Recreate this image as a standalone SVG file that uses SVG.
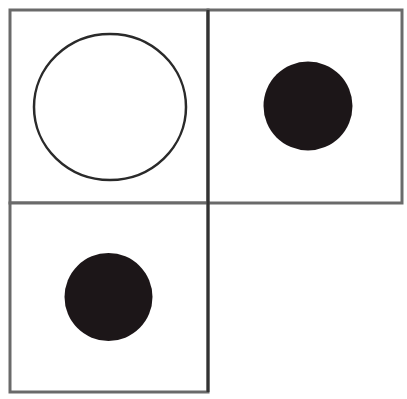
<svg xmlns="http://www.w3.org/2000/svg" width="407" height="399" viewBox="0 0 407 399">
<style>
.box{fill:#fff;stroke:#6a6a6a;stroke-width:3}
.dot{fill:#1c1618}
</style>
<rect width="407" height="399" fill="#fff"/>
<g id="cell-top-left">
<rect class="box" x="10" y="10" width="198" height="193"/>
<ellipse cx="110" cy="107" rx="76" ry="73" fill="none" stroke="#2a2a2a" stroke-width="2.5"/>
</g>
<g id="cell-top-right">
<rect class="box" x="208" y="10" width="194" height="193"/>
<circle class="dot" cx="308" cy="106" r="44.5"/>
</g>
<g id="cell-bottom-left">
<rect class="box" x="10" y="203" width="198" height="189"/>
<circle class="dot" cx="108.5" cy="297" r="44"/>
</g>
<g id="connectors">
<line x1="208" y1="10" x2="208" y2="392" stroke="#333" stroke-width="3"/>
</g>
</svg>
